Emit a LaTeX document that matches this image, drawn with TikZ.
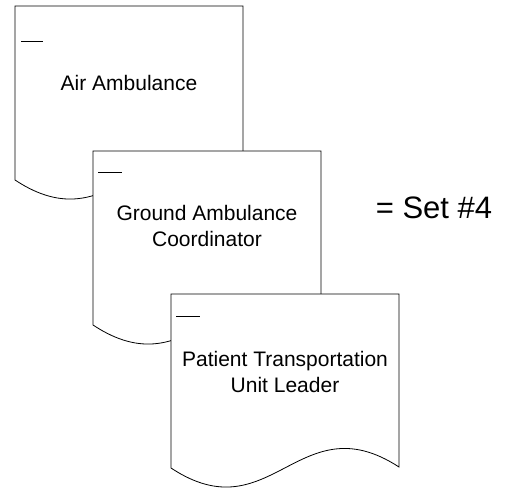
\documentclass[tikz,border=0pt]{standalone}
\usepackage{fontspec}
\setmainfont{Liberation Sans}
\usepackage{tikz}

\tikzset{
	docpage/.pic={
		\draw[fill=white, line width=0.8pt] (0,0) -- (228,0) -- (228,173)
			.. controls (128,108) and (100,240) .. (0,174) -- cycle;
	},
	doctext/.style={align=center, font=\fontsize{21}{26}\selectfont},
	docmark/.style={line width=0.8pt}
}

\begin{document}
\begin{tikzpicture}[x=1pt, y=-1pt]
	
	\useasboundingbox (0,0) rectangle (511,487);
	
	\pic at (15, 6)    {docpage};
	\draw[docmark] (21, 41) -- (43, 41);
	\node[doctext] (air) at (129, 83) {Air Ambulance};
	
	\pic at (93, 151)  {docpage};
	\draw[docmark] (98, 172) -- (122, 172);
	\node[doctext] (ground) at (207, 226) {Ground Ambulance\\Coordinator};
	
	\pic at (171, 294) {docpage};
	\draw[docmark] (176, 316) -- (200, 316);
	\node[doctext] (patient) at (285, 372) {Patient Transportation\\Unit Leader};
	
	\node[font=\fontsize{31}{36}\selectfont] (set) at (434, 208) {= Set \#4};

\end{tikzpicture}
\end{document}
